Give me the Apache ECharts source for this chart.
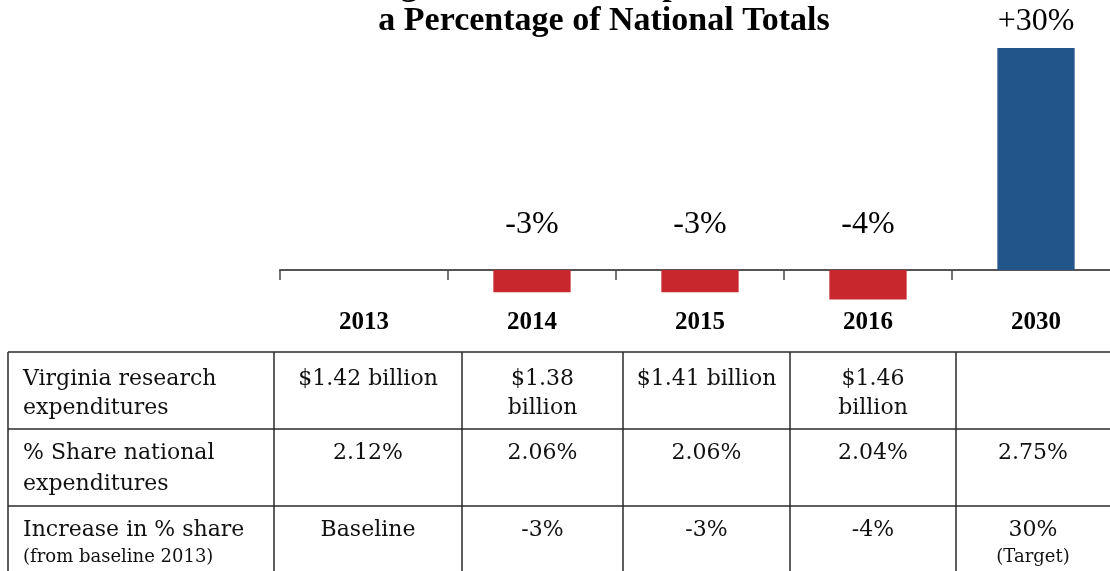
<!DOCTYPE html>
<html>
<head>
<meta charset="utf-8">
<script src="https://cdn.jsdelivr.net/npm/echarts@6/dist/echarts.min.js"></script>
<style>
  html, body { margin: 0; padding: 0; background: #fff; overflow: hidden; }
  #chart { width: 1120px; height: 571px; }
</style>
</head>
<body>
<div id="chart"></div>
<script>
// ---- Data ----
const titleLines = ['Virginia Research Expenditures as', 'a Percentage of National Totals'];
const categories = ['2013', '2014', '2015', '2016', '2030'];
const changeValues = [0, -3, -3, -4, 30];
const changeLabels = ['', '-3%', '-3%', '-4%', '+30%'];

const rowHeaders = [
  ['Virginia research', 'expenditures'],
  ['% Share national', 'expenditures'],
  ['Increase in % share', '(from baseline 2013)']
];
const expenditures = [['$1.42 billion'], ['$1.38', 'billion'], ['$1.41 billion'], ['$1.46', 'billion'], []];
const shareNational = [['2.12%'], ['2.06%'], ['2.06%'], ['2.04%'], ['2.75%']];
const increaseShare = [['Baseline'], ['-3%'], ['-3%'], ['-4%'], ['30%', '(Target)']];

// ---- Styling / layout ----
const RED = '#C8282D';
const BLUE = '#22558A';
const SERIF = "'Liberation Serif', 'Times New Roman', serif";
const TABLE_FONT = "'DejaVu Serif', serif";

const colEdges = [8, 274, 462, 623, 790, 956, 1118];
const rowEdges = [352, 429, 506, 600];
const rowBaselines = [[386, 415], [460, 491], [537, 563]];

const chart = echarts.init(document.getElementById('chart'));

const graphics = [];
// title
titleLines.forEach((t, i) => {
  graphics.push({
    type: 'text', x: 604, y: i === 0 ? -14 : 21,
    style: { text: t, font: 'bold 34px ' + SERIF, fill: '#000', align: 'center', verticalAlign: 'middle' }
  });
});
// table lines
rowEdges.forEach(y => {
  graphics.push({ type: 'line', shape: { x1: colEdges[0], y1: y, x2: colEdges[colEdges.length - 1], y2: y },
    style: { stroke: '#2a2a2a', lineWidth: 1.5 } });
});
colEdges.forEach(x => {
  graphics.push({ type: 'line', shape: { x1: x, y1: rowEdges[0], x2: x, y2: rowEdges[rowEdges.length - 1] },
    style: { stroke: '#2a2a2a', lineWidth: 1.5 } });
});
// table text
function addText(str, x, baseline, align, size) {
  graphics.push({
    type: 'text', x: x, y: baseline - 0.3 * size,
    style: { text: str, font: size + 'px ' + TABLE_FONT, fill: '#111', align: align, verticalAlign: 'middle' }
  });
}
rowHeaders.forEach((lines, r) => {
  lines.forEach((ln, k) => {
    const small = (r === 2 && k === 1);
    addText(ln, 23, rowBaselines[r][k], 'left', small ? 18 : 22);
  });
});
[expenditures, shareNational, increaseShare].forEach((row, r) => {
  row.forEach((lines, c) => {
    const cx = c < 4 ? (colEdges[c + 1] + colEdges[c + 2]) / 2 : 1033;
    lines.forEach((ln, k) => {
      const small = (r === 2 && k === 1);
      addText(ln, cx, rowBaselines[r][k], 'center', small ? 18 : 22);
    });
  });
});

const barData = changeValues.map((v, i) => ({
  value: v,
  itemStyle: { color: v < 0 ? RED : BLUE },
  label: {
    show: changeLabels[i] !== '',
    position: 'top',
    distance: v < 0 ? 29 : 10,
    formatter: changeLabels[i]
  }
}));

chart.setOption({
  animation: false,
  backgroundColor: '#fff',
  grid: { left: 280, width: 840, top: 48, bottom: 264, containLabel: false },
  xAxis: {
    type: 'category',
    data: categories,
    axisLine: { onZero: true, lineStyle: { color: '#555', width: 2 } },
    axisTick: { show: true, length: 10, lineStyle: { color: '#444', width: 1.5 } },
    axisLabel: { margin: 3, fontFamily: SERIF, fontWeight: 'bold', fontSize: 25, color: '#000' }
  },
  yAxis: {
    type: 'value', min: -5, max: 30, show: false,
    splitLine: { show: false }
  },
  series: [{
    type: 'bar',
    data: barData,
    barWidth: '46%',
    label: { fontFamily: SERIF, fontSize: 32, color: '#000' }
  }],
  graphic: graphics
});
</script>
</body>
</html>
